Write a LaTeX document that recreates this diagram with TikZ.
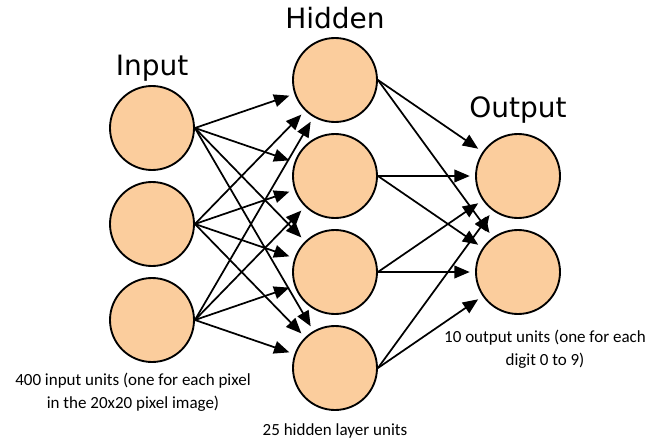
\documentclass[tikz,border=0pt]{standalone}
\usepackage{fontspec}
\newfontfamily\layerfont{DejaVu Sans}
\newfontfamily\notefont{Carlito}
\usetikzlibrary{arrows.meta}
\definecolor{peach}{RGB}{251,205,157}
\begin{document}
\begin{tikzpicture}[line join=round,line cap=round,>={Triangle[length=11.5pt,width=9.5pt]},x=0.75pt,y=-0.75pt]
	\tikzset{unit/.style={circle,draw,fill=peach,line width=1.4pt,minimum size=63pt,inner sep=0pt},
		layer/.style={font=\layerfont\fontsize{21}{21}\selectfont},
		note/.style={font=\notefont\fontsize{12.75}{17.25}\selectfont,align=center},
		link/.style={->,line width=1.3pt,shorten >=4pt}}
	\useasboundingbox (0,0) rectangle (650,443);
	%Các nút của ba lớp
	\foreach \i/\y in {1/128,2/224,3/320}
	\node[unit] (in\i) at (152,\y) {};
	\foreach \j/\y in {1/80,2/176,3/272,4/368}
	\node[unit] (hid\j) at (335,\y) {};
	\foreach \k/\y in {1/176,2/272}
	\node[unit] (out\k) at (518,\y) {};
	%Các mũi tên nối
	\foreach \i in {1,2,3}
	\foreach \j in {1,...,4}
	\draw[link] (in\i.east) -- (hid\j);
	\foreach \j in {1,...,4}
	\foreach \k in {1,2}
	\draw[link] (hid\j.east) -- (out\k);
	%Tên các lớp
	\node[layer] (tin) at (152,68) {Input};
	\node[layer] (thid) at (335,18) {Hidden};
	\node[layer] (tout) at (518,110) {Output};
	\node[note] (nin) at (133,392) {400 input units (one for each pixel\\in the 20x20 pixel image)};
	\node[note] (nhid) at (335,431) {25 hidden layer units};
	\node[note] (nout) at (545,349) {10 output units (one for each\\digit 0 to 9)};
\end{tikzpicture}
\end{document}
